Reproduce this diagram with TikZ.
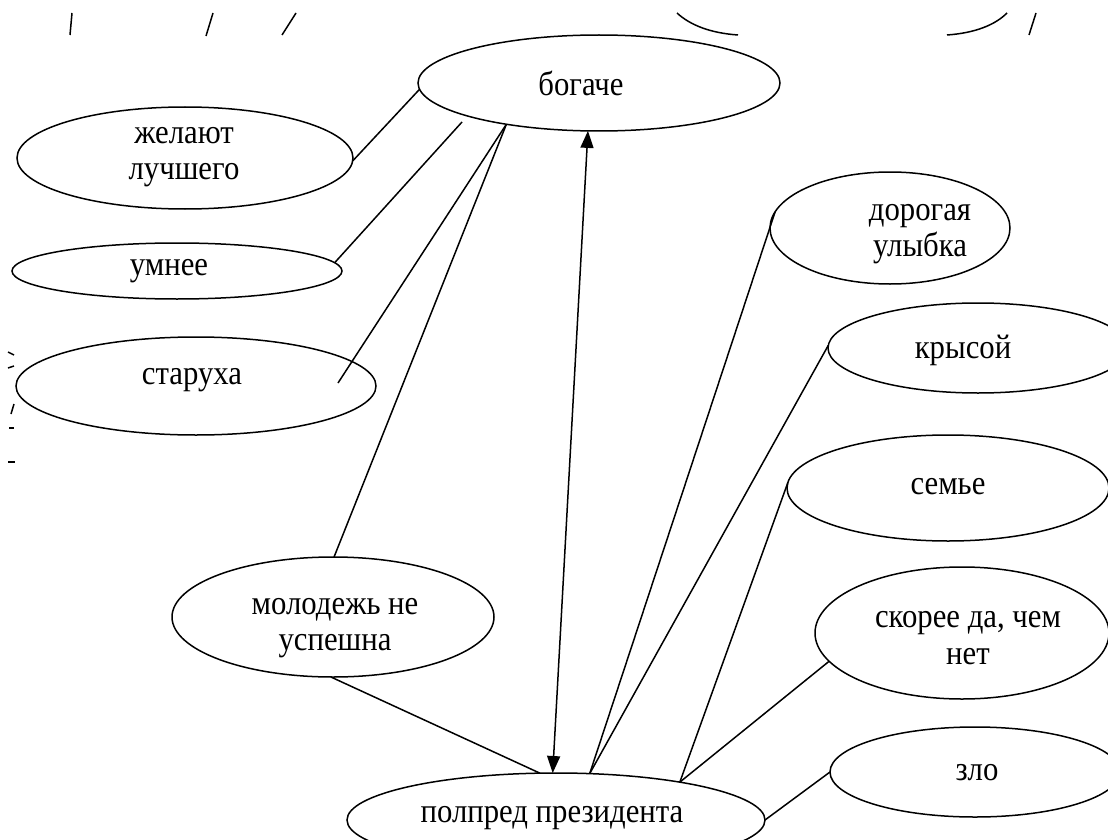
\documentclass[tikz,border=0pt]{standalone}
\usepackage{fontspec}
\setmainfont{Liberation Serif}
\usetikzlibrary{shapes.geometric,arrows.meta}
\tikzset{mytip/.tip={Triangle[length=17pt,width=13pt]}}
\begin{document}
\begin{tikzpicture}[x=1pt,y=-1pt,
  ln/.style={line width=1.5pt,black},
  ell/.style={draw,ellipse,ln,inner sep=0pt,outer sep=0pt},
  lbl/.style={font=\fontsize{29}{31}\selectfont,align=center,inner sep=0pt,
              xscale=1.06,yscale=1.18,transform shape}]
\useasboundingbox[fill=white] (0,0) rectangle (1108,840);

% ellipses
\node[ell,minimum width=362pt,minimum height=96pt]  (bog)  at (599,83)  {};
\node[ell,minimum width=336pt,minimum height=102pt] (zhel) at (185,158) {};
\node[ell,minimum width=330pt,minimum height=56pt]  (umn)  at (177,271) {};
\node[ell,minimum width=360pt,minimum height=98pt]  (star) at (196,386) {};
\node[ell,minimum width=322pt,minimum height=120pt] (mol)  at (333,617) {};
\node[ell,minimum width=418pt,minimum height=94pt]  (pol)  at (556,820) {};
\node[ell,minimum width=240pt,minimum height=112pt] (dor)  at (890,228) {};
\node[ell,minimum width=300pt,minimum height=90pt]  (krys) at (978,348) {};
\node[ell,minimum width=322pt,minimum height=106pt] (sem)  at (948,488) {};
\node[ell,minimum width=294pt,minimum height=132pt] (skor) at (962,633) {};
\node[ell,minimum width=290pt,minimum height=90pt]  (zlo)  at (975,772) {};

% labels
\node[lbl] (bogt)  at (581,83)  {богаче};
\node[lbl] (zhelt) at (184,157) {желают\\лучшего};
\node[lbl] (umnt)  at (169,271) {умнее};
\node[lbl] (start) at (192,380) {старуха};
\node[lbl] (molt)  at (335,628) {молодежь не\\успешна};
\node[lbl] (polt)  at (552,818) {полпред президента};
\node[lbl] (dort)  at (920,234) {дорогая\\улыбка};
\node[lbl] (kryst) at (963,350) {крысой};
\node[lbl] (semt)  at (948,487) {семье};
\node[lbl] (skort) at (968,638) {скорее да, чем\\нет};
\node[lbl] (zlot)  at (977,773) {зло};

% free ends
\coordinate (umnEnd) at (462,122);
\coordinate (starEnd) at (338,383);

% connectors
\draw[ln] (zhel.-1) -- (bog.182);
\draw[ln] (umn.3) -- (umnEnd);
\draw[ln] (starEnd) -- (bog.204);
\draw[ln] (mol.89) -- (bog.204);
\draw[ln,{mytip}-{mytip}] (bog.257) -- (pol.94);
\draw[ln] (mol.268) -- (pol.109);
\draw[ln] (pol.54) -- (dor.172);
\draw[ln] (pol.54) -- (krys.179);
\draw[ln] (pol.17) -- (sem.178);
\draw[ln] (pol.17) -- (skor.192);
\draw[ln] (pol.0) -- (zlo.180);

% fragments at the top edge
\draw[ln] (72,13) -- (70,35);
\draw[ln] (213,13) -- (206,36);
\draw[ln] (296,13) -- (282,35);
\draw[ln] (677,13) .. controls (690,25) and (710,33) .. (738,35);
\draw[ln] (947,35) .. controls (975,33) and (995,25) .. (1007,13);
\draw[ln] (1036,13) -- (1029,35);

% fragments at the left edge
\draw[ln] (8,352) -- (14,355);
\draw[ln] (8,368) -- (14,366);
\draw[ln] (14,404) -- (11,414);
\draw[ln] (9,428) -- (14,428);
\draw[ln] (8,462) -- (15,462);
\end{tikzpicture}
\end{document}
